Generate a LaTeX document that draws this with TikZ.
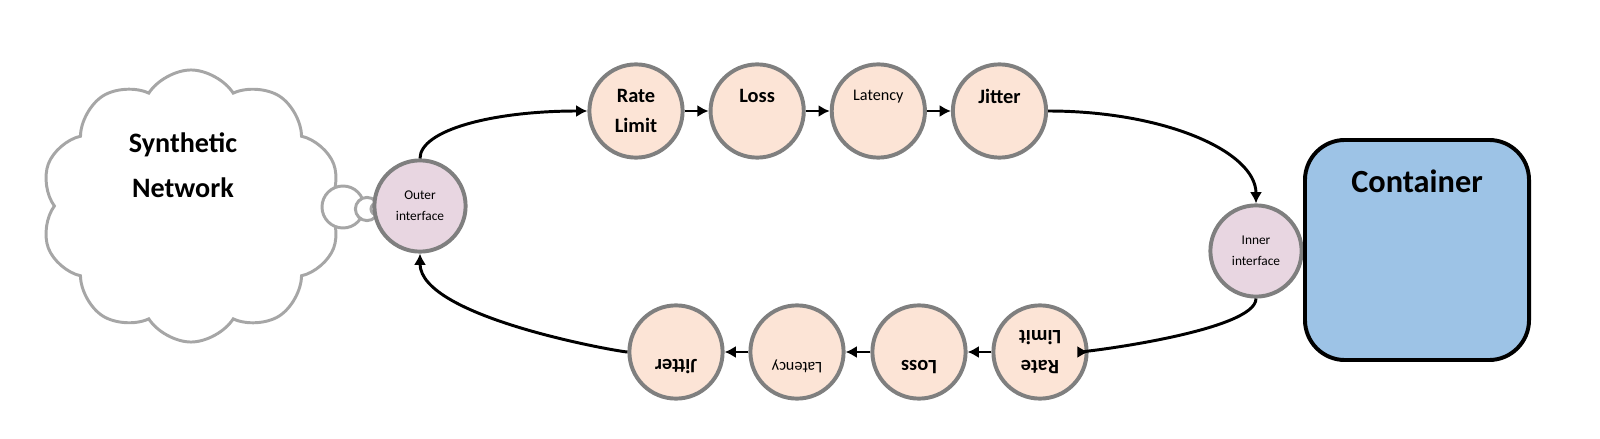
\documentclass[tikz,border=0pt]{standalone}
\usepackage{fontspec}
\setmainfont{Carlito}
\usetikzlibrary{positioning, arrows.meta, shapes.symbols}
\definecolor{peach}{HTML}{FCE4D6}
\definecolor{lilac}{HTML}{E8D6E1}
\definecolor{boxblue}{HTML}{9DC3E6}
\definecolor{ringgray}{HTML}{7F7F7F}
\definecolor{cloudgray}{HTML}{A6A6A6}

\tikzset{
  stage/.style={circle, draw=ringgray, fill=peach, line width=2.8pt,
    minimum size=2.33cm, inner sep=0pt, align=center,
    font=\bfseries\fontsize{14.5}{21}\selectfont},
  small/.style={font=\fontsize{11.5}{22}\selectfont},
  iface/.style={circle, draw=ringgray, fill=lilac, line width=2.8pt,
    minimum size=2.28cm, inner sep=0pt, align=center,
    font=\fontsize{9.5}{15}\selectfont},
  bubble/.style={circle, draw=cloudgray, fill=white, line width=2.1pt, inner sep=0pt},
  flow/.style={line width=2.1pt, -{Latex[length=2.8mm,width=3mm]}}
}

\begin{document}
\begin{tikzpicture}[x=0.025cm,y=-0.025cm]

\useasboundingbox (0,0) rectangle (1600,439);

% cloud and its bubbles
\node[cloud, draw=cloudgray, fill=white, line width=2.1pt, cloud puffs=10,
  cloud puff arc=115, cloud ignores aspect, minimum width=7.5cm,
  minimum height=6.8cm] (net) at (191,206) {};
\node[align=center, font=\bfseries\fontsize{20}{32}\selectfont] (netlabel) at (183,165) {Synthetic\\Network};
\node[bubble, minimum size=1.05cm] (b1) at (343,207) {};
\node[bubble, minimum size=0.58cm] (b2) at (367,209) {};
\node[bubble, minimum size=0.3cm] (b3) at (377,209) {};

% interfaces
\node[iface] (outer) at (420,206) {Outer\\interface};
\node[iface] (inner) at (1256,251) {Inner\\interface};

% container
\node[draw, line width=2.8pt, fill=boxblue, rounded corners=1cm,
  minimum width=5.6cm, minimum height=5.5cm] (box) at (1417,250) {};
\node[font=\bfseries\fontsize{23}{28}\selectfont] (boxlabel) at (1417,181) {Container};

% outgoing chain
\node[stage] (rateA) at (636,111) {Rate\\Limit};
\node[stage, right=0.6cm of rateA] (lossA) {Loss\\\mbox{}};
\node[stage, small, right=0.6cm of lossA] (latA) {Latency\\\mbox{}};
\node[stage, right=0.6cm of latA] (jitA) {Jitter\\\mbox{}};

% incoming chain (upside down)
\node[stage, rotate=180] (rateB) at (1040,352) {Rate\\Limit};
\node[stage, rotate=180] (lossB) at (919,352) {Loss\\\mbox{}};
\node[stage, small, rotate=180] (latB) at (797,352) {Latency\\\mbox{}};
\node[stage, rotate=180] (jitB) at (676,352) {Jitter\\\mbox{}};

\foreach \a/\b in {rateA/lossA, lossA/latA, latA/jitA, rateB/lossB, lossB/latB, latB/jitB}
  \draw[flow] (\a) -- (\b);

\draw[flow] (outer) to[out=90,in=180,out distance=0.7cm,in distance=2.4cm] (rateA);
\draw[flow] (jitA) to[out=0,in=90,out distance=2.9cm,in distance=1.3cm] (inner);
\draw[flow] (inner) to[out=-90,in=0,out distance=0.8cm,in distance=2.4cm] (rateB);
\draw[flow] (jitB) to[out=180,in=-90,out distance=2.6cm,in distance=1.6cm] (outer);
\end{tikzpicture}
\end{document}
